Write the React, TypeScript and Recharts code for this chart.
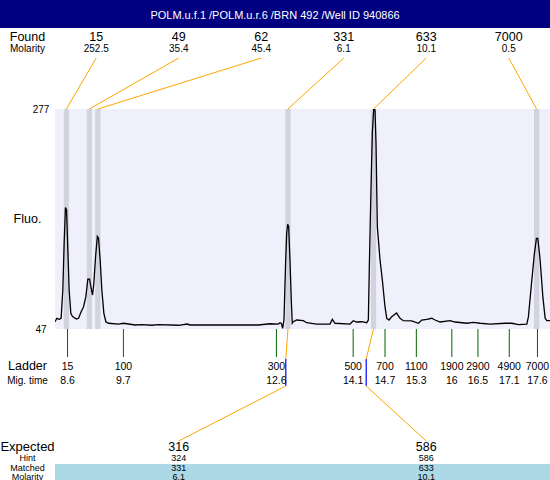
import { Line, LineChart, ReferenceArea, ReferenceLine, XAxis, YAxis } from "recharts"

const FONT = "'Liberation Sans', Arial, sans-serif"

// electropherogram trace: [migration time, fluorescence]
const trace: [number, number][] = [
  [8.362, 54.6], [8.395, 58.2], [8.439, 57.1], [8.477, 58.2], [8.51, 87.8], [8.535, 136.6],
  [8.56, 174.0], [8.581, 171.4], [8.606, 129.6], [8.631, 87.8], [8.663, 63.4], [8.696, 59.9],
  [8.769, 57.5], [8.811, 58.2], [8.861, 65.1], [8.907, 70.3], [8.951, 80.8], [8.989, 99.0],
  [9.022, 99.0], [9.052, 89.6], [9.079, 82.5], [9.104, 94.8], [9.137, 122.6], [9.171, 143.7],
  [9.194, 141.8], [9.225, 119.1], [9.257, 87.8], [9.296, 63.4], [9.334, 54.6], [9.386, 53.0],
  [9.577, 52.2], [9.673, 53.0], [9.896, 51.2], [10.024, 51.5], [10.216, 50.9], [10.344, 51.5],
  [10.727, 50.9], [10.892, 52.2], [10.944, 51.2], [12.253, 51.2], [12.477, 52.5], [12.636, 52.2],
  [12.669, 53.6], [12.697, 52.8], [12.72, 47.7], [12.745, 56.4], [12.778, 119.1], [12.797, 147.1],
  [12.816, 156.5], [12.835, 154.0], [12.86, 119.1], [12.885, 77.3], [12.904, 53.0], [12.923, 54.6],
  [12.989, 56.4], [13.115, 55.7], [13.18, 53.6], [13.372, 52.2], [13.627, 52.2], [13.671, 57.1],
  [13.723, 53.0], [14.01, 52.2], [14.073, 55.7], [14.138, 54.3], [14.234, 54.6], [14.33, 53.6],
  [14.361, 56.4], [14.38, 112.1], [14.407, 181.9], [14.437, 251.6], [14.464, 277], [14.489, 276.0],
  [14.508, 241.2], [14.533, 154.0], [14.585, 119.1], [14.629, 98.2], [14.68, 70.3], [14.713, 58.2],
  [14.758, 56.4], [14.809, 59.9], [14.901, 63.7], [14.968, 58.2], [15.032, 55.7], [15.192, 55.4],
  [15.319, 53.0], [15.384, 56.4], [15.48, 57.1], [15.576, 58.2], [15.639, 56.4], [15.735, 54.3],
  [15.926, 55.7], [16.022, 54.3], [16.247, 53.0], [16.373, 54.0], [16.501, 53.0], [16.693, 52.2],
  [16.98, 53.0], [17.108, 53.0], [17.236, 51.5], [17.396, 52.2], [17.427, 59.9], [17.492, 98.2],
  [17.542, 126.1], [17.58, 141.8], [17.607, 141.8], [17.651, 119.1], [17.703, 80.8], [17.747, 58.2],
  [17.779, 55.7], [17.84, 55.7],
]

// found peaks
const foundSize = ["15", "49", "62", "331", "633", "7000"]
const foundMolarity = ["252.5", "35.4", "45.4", "6.1", "10.1", "0.5"]
const foundTime = [8.577, 9.018, 9.181, 12.822, 14.46, 17.584]

// ladder
const ladderSize = [15, 100, 300, 500, 700, 1100, 1900, 2900, 4900, 7000]
const ladderTime = [8.6, 9.67, 12.6, 14.07, 14.68, 15.28, 15.96, 16.46, 17.06, 17.6]

// expected fragments
const expectedSize = ["316", "586"]
const hintSize = ["324", "586"]
const matchedSize = ["331", "633"]
const matchedMolarity = ["6.1", "10.1"]
const matchedPeakTime = [12.822, 14.46]
const expectedMarkTime = [12.78, 14.32]
const expectedSlot = [1, 4]

const data = trace.map(([t, fluo]) => ({ t, fluo }))

const W = 550
const H = 480
const margin = { top: 109, right: 0, bottom: 151, left: 55 }
const slotW = (W - margin.left - margin.right) / 6
const slotX = (i: number) => margin.left + (i + 0.5) * slotW
const fmtTime = (t: number) => String(Number(t.toFixed(1)))

const ORANGE = "#ffa500"

const foundLink = (i: number) => (p: any) => (
  <line x1={slotX(i)} y1={58} x2={p.x1} y2={Math.min(p.y1, p.y2)} stroke={ORANGE} strokeWidth={1} />
)

const ladderTick = (i: number) => (p: any) => {
  const y0 = Math.max(p.y1, p.y2)
  return (
    <g fontFamily={FONT} fontSize={10.5} textAnchor="middle" fill="#000">
      <line x1={p.x1} y1={y0} x2={p.x1} y2={y0 + 28} stroke="#006400" strokeWidth={1} />
      <text x={p.x1} y={y0 + 41} stroke="none">{ladderSize[i]}</text>
      <text x={p.x1} y={y0 + 55} stroke="none">{fmtTime(ladderTime[i])}</text>
    </g>
  )
}

const matchLink = (i: number) => (p: any) => (
  <g fill="none">
    <line x1={p.x1} y1={p.y1} x2={p.x2} y2={p.y1 + 30} stroke={ORANGE} />
    <line x1={p.x2} y1={p.y1 + 30} x2={p.x2} y2={p.y1 + 57} stroke="#0000ff" strokeWidth={1.2} />
    <line x1={p.x2} y1={p.y1 + 57} x2={slotX(expectedSlot[i])} y2={441} stroke={ORANGE} />
  </g>
)

export default function App() {
  const txt = { fontFamily: FONT, fill: "#000" }
  return (
    <div style={{ position: "absolute", left: 0, top: 0, width: W, height: H, overflow: "hidden", background: "#fff" }}>
      <svg width={W} height={H} style={{ position: "absolute", left: 0, top: 0 }}>
        <rect x={0} y={0} width={W} height={28} fill="#000080" />
        <text x={W / 2} y={19} textAnchor="middle" fontSize={11} fontFamily={FONT} fill="#fff">
          POLM.u.f.1 /POLM.u.r.6 /BRN 492 /Well ID 940866
        </text>
        <text x={27.5} y={41} textAnchor="middle" fontSize={12.5} {...txt}>Found</text>
        <text x={27.5} y={52} textAnchor="middle" fontSize={10} {...txt}>Molarity</text>
        {foundSize.map((s, i) => (
          <text key={"fs" + i} x={slotX(i)} y={41} textAnchor="middle" fontSize={12.5} {...txt}>{s}</text>
        ))}
        {foundMolarity.map((s, i) => (
          <text key={"fm" + i} x={slotX(i)} y={52} textAnchor="middle" fontSize={10} {...txt}>{s}</text>
        ))}
        <text x={41} y={113} textAnchor="middle" fontSize={10} {...txt}>277</text>
        <text x={41} y={333} textAnchor="middle" fontSize={10} {...txt}>47</text>
        <text x={27.5} y={223} textAnchor="middle" fontSize={12.5} {...txt}>Fluo.</text>
        <text x={27.5} y={370} textAnchor="middle" fontSize={12.5} {...txt}>Ladder</text>
        <text x={27.5} y={384} textAnchor="middle" fontSize={10} {...txt}>Mig. time</text>
        <rect x={55} y={464} width={W - 55} height={16} fill="#add8e6" />
        <text x={27.5} y={450.5} textAnchor="middle" fontSize={13} {...txt}>Expected</text>
        <text x={27.5} y={460.5} textAnchor="middle" fontSize={9} {...txt}>Hint</text>
        <text x={27.5} y={470.5} textAnchor="middle" fontSize={9} {...txt}>Matched</text>
        <text x={27.5} y={479.5} textAnchor="middle" fontSize={9} {...txt}>Molarity</text>
        {expectedSize.map((s, i) => (
          <g key={"ex" + i} textAnchor="middle" {...txt}>
            <text x={slotX(expectedSlot[i])} y={450.5} fontSize={12.5}>{s}</text>
            <text x={slotX(expectedSlot[i])} y={460.5} fontSize={9}>{hintSize[i]}</text>
            <text x={slotX(expectedSlot[i])} y={470.5} fontSize={9}>{matchedSize[i]}</text>
            <text x={slotX(expectedSlot[i])} y={479.5} fontSize={9}>{matchedMolarity[i]}</text>
          </g>
        ))}
      </svg>
      <div style={{ position: "absolute", left: 0, top: 0 }}>
        <LineChart width={W} height={H} data={data} margin={margin}>
          <XAxis type="number" dataKey="t" domain={[8.36, 17.84]} hide allowDataOverflow />
          <YAxis type="number" domain={[47, 277]} hide allowDataOverflow />
          <ReferenceArea x1={8.36} x2={17.84} y1={47} y2={277} fill="#f0f0fc" fillOpacity={1} stroke="none" />
          {foundTime.map((t, i) => (
            <ReferenceArea key={"band" + i} x1={t - 0.05} x2={t + 0.05} y1={47} y2={277} fill="#d3d3df" fillOpacity={1} stroke="none" />
          ))}
          {foundTime.map((t, i) => (
            <ReferenceLine key={"fl" + i} x={t} ifOverflow="visible" shape={foundLink(i)} />
          ))}
          {ladderTime.map((t, i) => (
            <ReferenceLine key={"ld" + i} x={t} ifOverflow="visible" shape={ladderTick(i)} />
          ))}
          {matchedPeakTime.map((t, i) => (
            <ReferenceLine
              key={"ml" + i}
              segment={[{ x: t, y: 47 }, { x: expectedMarkTime[i], y: 47 }]}
              ifOverflow="visible"
              shape={matchLink(i)}
            />
          ))}
          <Line
            type="linear"
            dataKey="fluo"
            stroke="#000"
            strokeWidth={1.3}
            dot={false}
            activeDot={false}
            isAnimationActive={false}
          />
        </LineChart>
      </div>
    </div>
  )
}
